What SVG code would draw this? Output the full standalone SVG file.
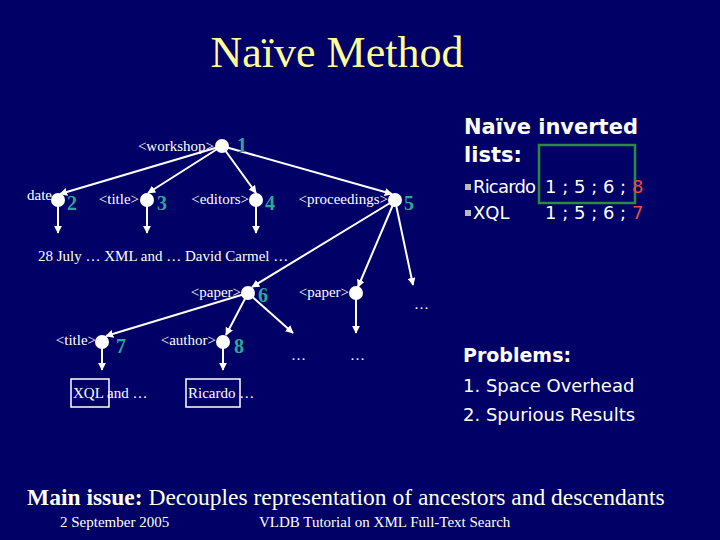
<svg xmlns="http://www.w3.org/2000/svg" width="720" height="540" viewBox="0 0 720 540">
<defs>
<marker id="ah" viewBox="0 0 10 10" refX="9" refY="5" markerWidth="4" markerHeight="4" orient="auto"><path d="M0,0L10,5L0,10z" fill="#fff"/></marker>
<style>
.s{font-family:"Liberation Serif",serif;fill:#fff;font-size:15px}
.n{font-family:"Liberation Serif",serif;fill:#2aa89a;font-size:20px;font-weight:bold}
.a{font-family:"DejaVu Sans",sans-serif;fill:#fff;font-size:18px}
line{stroke:#fff;stroke-width:2;marker-end:url(#ah)}
circle{fill:#fff}
</style>
</defs>
<rect width="720" height="540" fill="#000066"/>
<text x="337" y="67" text-anchor="middle" font-family="Liberation Serif,serif" font-size="44" fill="#ffff99">Naïve Method</text>
<g id="connectors">
<line x1="222" y1="146" x2="60" y2="194"/>
<line x1="222" y1="146" x2="148" y2="193"/>
<line x1="222" y1="146" x2="256" y2="193"/>
<line x1="222" y1="146" x2="392" y2="194"/>
<line x1="58" y1="200" x2="58" y2="233"/>
<line x1="147" y1="200" x2="147" y2="233"/>
<line x1="256" y1="200" x2="256" y2="233"/>
<line x1="395" y1="200" x2="252" y2="287"/>
<line x1="395" y1="200" x2="358" y2="287"/>
<line x1="395" y1="200" x2="413" y2="285"/>
<line x1="248" y1="293" x2="106" y2="336"/>
<line x1="248" y1="293" x2="226" y2="335"/>
<line x1="248" y1="293" x2="293" y2="333"/>
<line x1="356" y1="293" x2="356" y2="333"/>
<line x1="102" y1="342" x2="102" y2="370"/>
<line x1="223" y1="342" x2="223" y2="370"/>
</g>
<g id="n1"><circle cx="222" cy="146" r="7"/><text class="s" x="214" y="151" text-anchor="end">&lt;workshop&gt;</text><text class="n" x="237" y="152">1</text></g>
<g id="n2"><circle cx="58" cy="200" r="7"/><text class="s" x="52" y="200" text-anchor="end">date</text><text class="n" x="67" y="210">2</text></g>
<g id="n3"><circle cx="147" cy="200" r="7"/><text class="s" x="139" y="204" text-anchor="end">&lt;title&gt;</text><text class="n" x="157" y="210">3</text></g>
<g id="n4"><circle cx="256" cy="200" r="7"/><text class="s" x="249" y="204" text-anchor="end">&lt;editors&gt;</text><text class="n" x="265" y="210">4</text></g>
<g id="n5"><circle cx="395" cy="200" r="7"/><text class="s" x="388" y="204" text-anchor="end">&lt;proceedings&gt;</text><text class="n" x="404" y="210">5</text></g>
<text class="s" x="38" y="261">28 July … XML and … David Carmel …</text>
<g id="n6"><circle cx="248" cy="293" r="7"/><text class="s" x="241" y="297" text-anchor="end">&lt;paper&gt;</text><text class="n" x="258" y="302">6</text></g>
<g id="np"><circle cx="356" cy="293" r="7"/><text class="s" x="349" y="297" text-anchor="end">&lt;paper&gt;</text></g>
<text class="s" x="414" y="309">…</text>
<g id="n7"><circle cx="102" cy="342" r="7"/><text class="s" x="96" y="345" text-anchor="end">&lt;title&gt;</text><text class="n" x="116" y="353">7</text></g>
<g id="n8"><circle cx="223" cy="342" r="7"/><text class="s" x="216" y="345" text-anchor="end">&lt;author&gt;</text><text class="n" x="234" y="353">8</text></g>
<text class="s" x="291" y="360">…</text>
<text class="s" x="350" y="360">…</text>
<rect x="71" y="379" width="38" height="28" fill="none" stroke="#fff" stroke-width="1.5"/>
<text class="s" x="73" y="398">XQL and …</text>
<rect x="186" y="379" width="54" height="28" fill="none" stroke="#fff" stroke-width="1.5"/>
<text class="s" x="188" y="398">Ricardo …</text>
<text font-family="DejaVu Sans,sans-serif" font-weight="bold" font-size="21" fill="#fff"><tspan x="464" y="134">Naïve inverted</tspan><tspan x="464" y="162">lists:</tspan></text>
<rect x="539" y="145" width="96" height="58" fill="none" stroke="#2e8b3e" stroke-width="2.5"/>
<rect x="465" y="184" width="6" height="6" fill="#bbb"/>
<rect x="465" y="210" width="6" height="6" fill="#bbb"/>
<text class="a" x="473" y="193" textLength="63">Ricardo</text>
<text class="a" x="473" y="219">XQL</text>
<text class="a" x="545" y="193">1 ; 5 ; 6 ; <tspan fill="#e05040">8</tspan></text>
<text class="a" x="545" y="219">1 ; 5 ; 6 ; <tspan fill="#e05040">7</tspan></text>
<text font-family="DejaVu Sans,sans-serif" font-weight="bold" font-size="19" fill="#fff" x="463" y="362">Problems:</text>
<text class="a" font-size="17" x="463" y="392">1. Space Overhead</text>
<text class="a" font-size="17" x="463" y="421">2. Spurious Results</text>
<text font-family="Liberation Serif,serif" font-size="23.5" fill="#fff" x="27" y="505"><tspan font-weight="bold">Main issue:</tspan> Decouples representation of ancestors and descendants</text>
<text class="s" font-size="13" x="60" y="527">2 September 2005</text>
<text class="s" font-size="13" x="259" y="527">VLDB Tutorial on XML Full-Text Search</text>
</svg>
